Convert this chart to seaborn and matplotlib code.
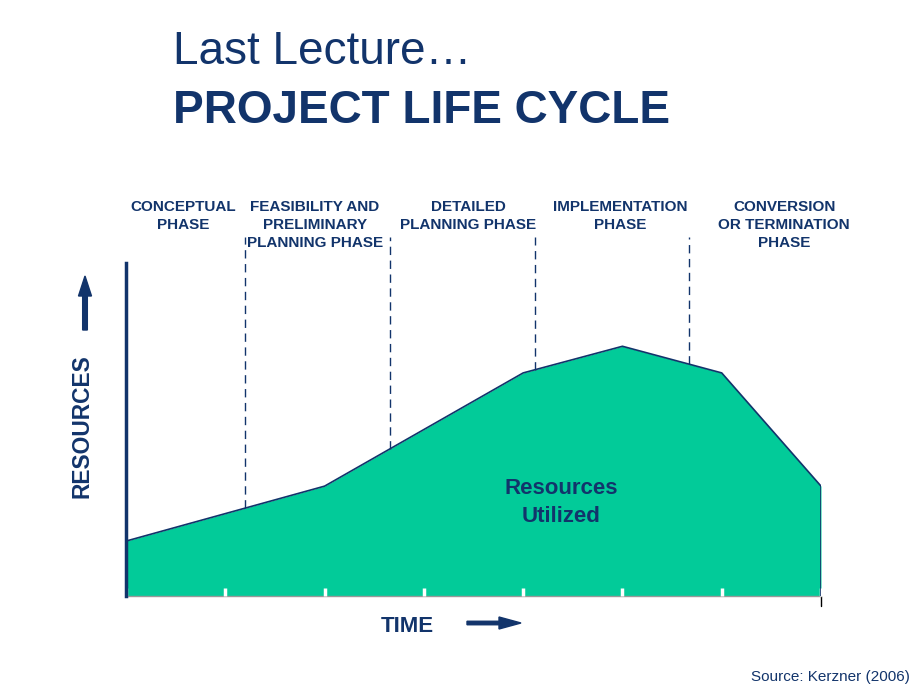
import matplotlib
matplotlib.use("Agg")
import matplotlib.pyplot as plt
import seaborn as sns
import pandas as pd
import numpy as np

# ---- data ----
time_pts = [0, 2, 4, 5, 6, 7]
resources = [1.65, 3.3, 6.7, 7.5, 6.7, 3.3]
tick_pos = [0, 1, 2, 3, 4, 5, 6, 7]
phase_bounds = [1.2, 2.66, 4.12, 5.67]
phase_labels = ["CONCEPTUAL\nPHASE", "FEASIBILITY AND\nPRELIMINARY\nPLANNING PHASE",
                "DETAILED\nPLANNING PHASE", "IMPLEMENTATION\nPHASE",
                "CONVERSION\nOR TERMINATION\nPHASE"]
phase_centers = [0.58, 1.9, 3.45, 4.98, 6.63]

sns.set_theme(style="white")
plt.rcParams['font.family'] = ['Liberation Sans', 'DejaVu Sans']

NAVY = "#12346B"
FILL = "#02CB99"

fig = plt.figure(figsize=(9.2, 6.9), dpi=100)
ax = fig.add_axes([0.137, 0.1362, 0.7554, 0.4826])
ax.set_axisbelow(False)

df = pd.DataFrame({"time": time_pts, "res": resources})
ax.fill_between(df["time"], 0, df["res"], color=FILL, zorder=1, linewidth=0)
sns.lineplot(data=df, x="time", y="res", ax=ax, color=NAVY, linewidth=1.2, zorder=3)
ax.vlines(time_pts[-1], 0, resources[-1], color=NAVY, linewidth=1.2, zorder=3)

ax.set_xlim(0, 7)
ax.set_ylim(0, 10)
ax.set_xticks(tick_pos)
ax.set_yticks([])
ax.set_xticklabels([])
ax.set_xlabel("")
ax.set_ylabel("")
ax.tick_params(axis="x", direction="in", length=6, width=2.5, color="white", bottom=True)
for s in ["top", "right"]:
    ax.spines[s].set_visible(False)
ax.spines["left"].set_color(NAVY)
ax.spines["left"].set_linewidth(2.5)
ax.spines["left"].set_zorder(4)
ax.spines["bottom"].set_color("#999999")
ax.spines["bottom"].set_linewidth(1)
ax.plot([7, 7], [-0.3, 0], color="black", lw=1, clip_on=False)

# dashed phase boundaries: from above axes down to the curve
for b in phase_bounds:
    yv = np.interp(b, time_pts, resources)
    ax.plot([b, b], [yv, 10.78], color=NAVY, lw=1, ls=(0, (6, 4)), clip_on=False, zorder=2)

for c, lab in zip(phase_centers, phase_labels):
    ax.text(c, 11.9, lab, ha="center", va="top", fontsize=11, fontweight="bold",
            color=NAVY, linespacing=1.36, transform=ax.transData, clip_on=False)

ax.text(4.38, 2.8, "Resources\nUtilized", ha="center", va="center", fontsize=16,
        fontweight="bold", color=NAVY, linespacing=1.45)

# titles
fig.text(173 / 920, 1 - 52 / 690, "Last Lecture\u2026", fontsize=33, color=NAVY,
         ha="left", va="center")
fig.text(173 / 920, 1 - 111 / 690, "PROJECT LIFE CYCLE", fontsize=33, fontweight="bold",
         color=NAVY, ha="left", va="center")

# axis labels with arrows
fig.text(82 / 920, 1 - 426 / 690, "RESOURCES", rotation=90, fontsize=16.4, fontweight="bold",
         color=NAVY, ha="center", va="center")
fig.text(407 / 920, 1 - 627 / 690, "TIME", fontsize=16, fontweight="bold",
         color=NAVY, ha="center", va="center")
fig.patches.append(matplotlib.patches.FancyArrow(
    85 / 920, 1 - 330 / 690, 0, 54 / 690, width=3.5 / 690, head_width=13 / 920,
    head_length=20 / 690, length_includes_head=True, color=NAVY, transform=fig.transFigure))
fig.patches.append(matplotlib.patches.FancyArrow(
    467 / 920, 1 - 623 / 690, 54 / 920, 0, width=3.5 / 690, head_width=12 / 690,
    head_length=22 / 920, length_includes_head=True, color=NAVY, transform=fig.transFigure))

fig.text(910 / 920, 1 - 677 / 690, "Source: Kerzner (2006)", fontsize=11, color=NAVY,
         ha="right", va="center")

fig.savefig("out.png", dpi=100)
